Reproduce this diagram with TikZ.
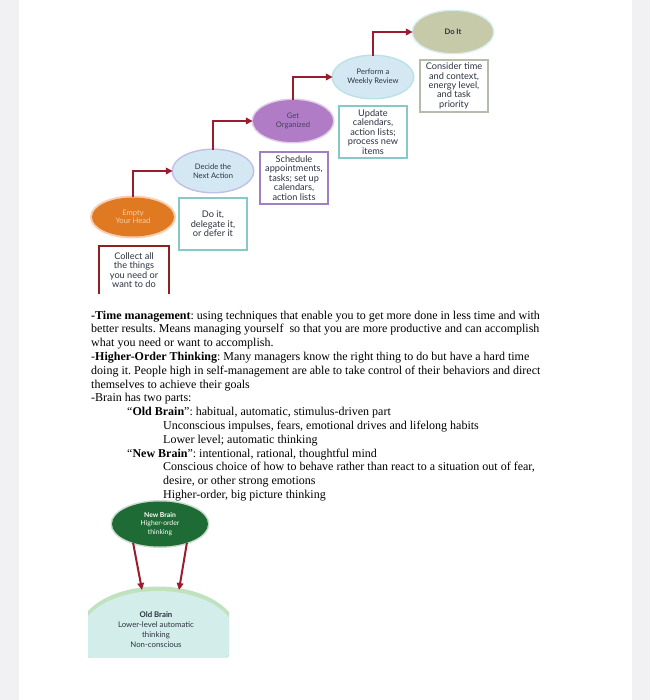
\documentclass[tikz,border=0pt]{standalone}
\usepackage{fontspec}
\setmainfont{Liberation Serif}
\newfontfamily\diag{Lato}
\usetikzlibrary{shapes.geometric,arrows.meta}
\definecolor{bggrey}{HTML}{F1F1F3}
\definecolor{darkred}{HTML}{9B1C2E}
\definecolor{orangefill}{HTML}{E07A22}
\definecolor{orangeglow}{HTML}{F4B080}
\definecolor{orangetext}{HTML}{F8CFA0}
\definecolor{bluefill}{HTML}{D3E8F2}
\definecolor{blueglow}{HTML}{A8A4DC}
\definecolor{purplefill}{HTML}{B07CC6}
\definecolor{purpleglow}{HTML}{C8A8DC}
\definecolor{purplebox}{HTML}{A080C0}
\definecolor{tealbox}{HTML}{86CAC8}
\definecolor{tealglow}{HTML}{9ED6D8}
\definecolor{sagefill}{HTML}{C6CAA8}
\definecolor{sageglow}{HTML}{C8E8E8}
\definecolor{sagebox}{HTML}{B4BCAC}
\definecolor{boxred}{HTML}{8E1F22}
\definecolor{nbgreen}{HTML}{1E6B35}
\definecolor{obfill}{HTML}{D3EEEA}
\definecolor{obglow}{HTML}{A6D6A2}
\definecolor{dtext}{HTML}{2C3242}
\tikzset{
  stage/.style={ellipse, inner sep=0pt, minimum width=80, minimum height=42,
    font=\diag\fontsize{7.6}{8.6}\selectfont, align=center, text=dtext},
  note/.style={rectangle, line width=2.4pt, minimum width=68, minimum height=52,
    font=\diag\fontsize{9.2}{9.4}\selectfont, align=center, inner sep=1pt, fill=white, text=dtext},
  arr/.style={draw=darkred, line width=2pt, -{Triangle[length=7pt,width=6.5pt]}},
  body/.style={anchor=base west, inner sep=0pt, font=\fontsize{12}{13.8}\selectfont},
}
\begin{document}
\frenchspacing
\begin{tikzpicture}[x=1pt,y=-1pt]
\useasboundingbox (0,0) rectangle (650,700);
\fill[white] (0,0) rectangle (650,700);
\fill[bggrey] (0,0) rectangle (19,700);
\fill[bggrey] (632,0) rectangle (650,700);

% stages
\node[stage, fill=orangefill, text=orangetext, minimum width=82, minimum height=39,
  preaction={draw=orangeglow, line width=4pt, opacity=0.6}] (eh) at (133,217) {Empty\\Your Head};
\node[stage, fill=bluefill, preaction={draw=blueglow, line width=3pt, opacity=0.7}] (dn) at (213,171) {Decide the\\Next Action};
\node[stage, fill=purplefill, text=dtext!80!purplefill, preaction={draw=purpleglow, line width=3pt, opacity=0.6}] (go) at (293,121) {Get\\Organized};
\node[stage, fill=bluefill, preaction={draw=tealglow, line width=3pt, opacity=0.7}] (pw) at (373,77) {Perform a\\Weekly Review};
\node[stage, fill=sagefill, preaction={draw=sageglow, line width=3pt, opacity=0.7}] (di) at (453,32) {\textbf{Do It}};

% notes
\node[note, draw=none, fill=white] (cb) at (134,270) {Collect all\\the things\\you need or\\want to do};
\draw[boxred, line width=2.6pt] (99,294) -- (99,246) -- (169,246) -- (169,294);
\node[note, draw=tealbox] (dd) at (213,224) {Do it,\\delegate it,\\or defer it};
\node[note, draw=purplebox] (sc) at (294,178) {Schedule\\appointments,\\tasks; set up\\calendars,\\action lists};
\node[note, draw=tealbox] (up) at (373,132) {Update\\calendars,\\action lists;\\process new\\items};
\node[note, draw=sagebox] (cn) at (454,86) {Consider time\\and context,\\energy level,\\and task\\priority};

% connectors
\draw[arr] (eh.north) |- (dn.west);
\draw[arr] (dn.north) |- (go.west);
\draw[arr] (go.north) |- (pw.west);
\draw[arr] (pw.north) |- (di.west);

% body text
\node[body] (t1) at (91,319) {\textbf{-Time management}: using techniques that enable you to get more done in less time and with};
\node[body] (t2) at (91,332.8) {better results. Means managing yourself\ \ so that you are more productive and can accomplish};
\node[body] (t3) at (91,346.6) {what you need or want to accomplish.};
\node[body] (t4) at (91,360.4) {-\textbf{Higher-Order Thinking}: Many managers know the right thing to do but have a hard time};
\node[body] (t5) at (91,374.2) {doing it. People high in self-management are able to take control of their behaviors and direct};
\node[body] (t6) at (91,388) {themselves to achieve their goals};
\node[body] (t7) at (91,401.8) {-Brain has two parts:};
\node[body] (t8) at (127,415.6) {“\textbf{Old Brain}”: habitual, automatic, stimulus-driven part};
\node[body] (t9) at (163,429.4) {Unconscious impulses, fears, emotional drives and lifelong habits};
\node[body] (t10) at (163,443.2) {Lower level; automatic thinking};
\node[body] (t11) at (127,457) {“\textbf{New Brain}”: intentional, rational, thoughtful mind};
\node[body] (t12) at (163,470.8) {Conscious choice of how to behave rather than react to a situation out of fear,};
\node[body] (t13) at (163,484.6) {desire, or other strong emotions};
\node[body] (t14) at (163,498.4) {Higher-order, big picture thinking};

% brain diagram
\begin{scope}
  \clip (88,585) rectangle (229,657);
  \fill[obglow!70] (158,634) ellipse [x radius=80, y radius=47.5];
  \fill[obfill] (158,636) ellipse [x radius=78, y radius=45];
\end{scope}
\node[inner sep=0pt, align=center, font=\diag\fontsize{7.8}{10}\selectfont, text=dtext] (ob) at (156,630)
  {\textbf{Old Brain}\\Lower-level automatic\\thinking\\Non-conscious};
\node[stage, fill=nbgreen, text=white, minimum width=96, minimum height=45,
  font=\diag\fontsize{6.8}{8.4}\selectfont,
  preaction={draw=nbgreen!40, line width=3pt, opacity=0.6}] (nb) at (160,524) {\textbf{New Brain}\\Higher-order\\thinking};
\coordinate (obL) at (142,590);
\coordinate (obR) at (179,590);
\draw[arr] (nb.215) -- (obL);
\draw[arr] (nb.325) -- (obR);
\end{tikzpicture}
\end{document}
